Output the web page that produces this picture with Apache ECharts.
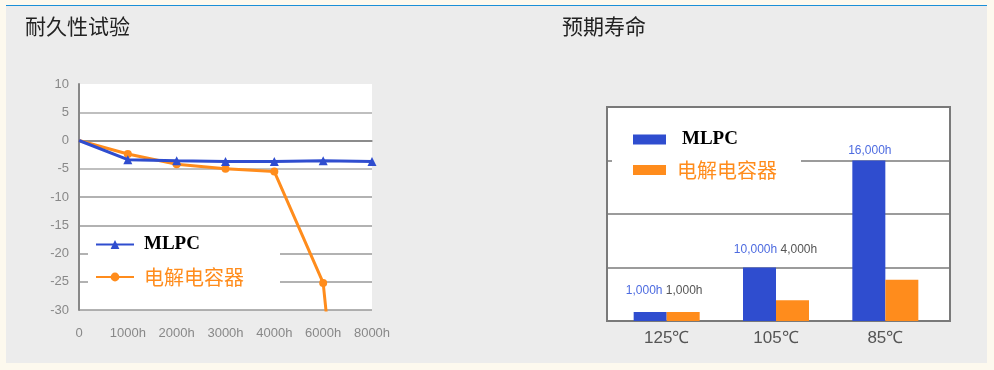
<!DOCTYPE html>
<html>
<head>
<meta charset="utf-8">
<script src="https://cdn.jsdelivr.net/npm/echarts@6/dist/echarts.min.js"></script>
<style>
html,body{margin:0;padding:0;background:#fdf9ee;}
#panel{position:absolute;left:6px;top:5px;width:981px;height:357px;background:#ececec;border-top:1px solid #1a8fd8;}
#chart{position:absolute;left:0;top:0;width:994px;height:370px;}
</style>
</head>
<body>
<div id="panel"></div>
<div id="chart"></div>
<script>
// ---- data ----
const hours = ['0', '1000h', '2000h', '3000h', '4000h', '6000h', '8000h'];
const mlpcChange = [0, -3.4, -3.6, -3.7, -3.7, -3.6, -3.7];
const elecChange = [0, -2.4, -4.2, -5.0, -5.5, -25.2, -110];
const yTicks = {min: -30, max: 10, interval: 5};

const temps = ['125℃', '105℃', '85℃'];
const mlpcLifeBar = [0.17, 1.0, 3.0];   // bar heights as drawn (grid units)
const elecLifeBar = [0.17, 0.39, 0.77];
const mlpcLifeText = ['1,000h', '10,000h', '16,000h'];
const elecLifeText = ['1,000h', '4,000h', ''];

const seriesNames = ['MLPC', '电解电容器'];

// ---- styling (not data) ----
const BLUE = '#2f4dcf', ORANGE = '#ff8c1c';
const labelShift = [[14, -10], [16, -7], [1, 1]];

const chart = echarts.init(document.getElementById('chart'), null, {renderer: 'canvas'});

const legendFmt = function (name) {
  return name.indexOf('MLPC') === 0 ? '{m|MLPC}' : '{c|电解电容器}';
};
function legendRich(padM, padC) {
  return {
    m: {fontFamily: 'Liberation Serif', fontWeight: 'bold', fontSize: 19, color: '#000', lineHeight: 22, padding: [0, 0, 0, padM]},
    c: {fontFamily: 'Noto Sans CJK SC', fontSize: 20, color: ORANGE, lineHeight: 22, padding: [0, 0, 0, padC]}
  };
}

const option = {
  backgroundColor: 'transparent',
  animation: false,
  title: [
    {text: '耐久性试验', left: 20, top: 11, textStyle: {fontFamily: 'Noto Sans CJK SC', fontWeight: 'normal', fontSize: 21, color: '#222'}},
    {text: '预期寿命', left: 557, top: 11, textStyle: {fontFamily: 'Noto Sans CJK SC', fontWeight: 'normal', fontSize: 21, color: '#222'}}
  ],
  legend: [
    {
      data: [seriesNames[0], seriesNames[1]],
      orient: 'vertical', left: 88, top: 231,
      padding: [4, 36, 10, 7], itemGap: 13,
      itemWidth: 38, itemHeight: 11,
      backgroundColor: '#fff',
      formatter: legendFmt,
      textStyle: {rich: legendRich(5, 5)},
      selectedMode: false
    },
    {
      data: [seriesNames[0] + ' ', seriesNames[1] + ' '],
      orient: 'vertical', left: 612, top: 121,
      padding: [9, 24, 10, 21], itemGap: 11,
      itemWidth: 33, itemHeight: 10, icon: 'rect',
      backgroundColor: '#fff',
      formatter: legendFmt,
      textStyle: {rich: legendRich(11, 6)},
      selectedMode: false
    }
  ],
  grid: [
    {left: 79, top: 84, width: 293, height: 226, show: true, backgroundColor: '#fff', borderWidth: 0},
    {left: 607, top: 107, width: 343, height: 214, show: true, backgroundColor: '#fff', borderColor: '#7a7a7a', borderWidth: 2},
    {left: 612, top: 107, width: 328, height: 214}
  ],
  xAxis: [
    {
      gridIndex: 0, type: 'category', data: hours, boundaryGap: false,
      axisLine: {show: true, lineStyle: {color: '#888', width: 1.5}},
      axisTick: {show: false},
      axisLabel: {color: '#888', fontSize: 13, fontFamily: 'Liberation Sans', margin: 17},
      splitLine: {show: false}
    },
    {gridIndex: 1, type: 'category', data: temps, show: false},
    {
      gridIndex: 2, type: 'category', data: temps,
      axisLine: {show: false}, axisTick: {show: false},
      axisLabel: {color: '#555', fontSize: 17, fontFamily: 'Liberation Sans', margin: 9}
    }
  ],
  yAxis: [
    {
      gridIndex: 0, type: 'value', min: yTicks.min, max: yTicks.max, interval: yTicks.interval,
      axisLine: {show: true, lineStyle: {color: '#888', width: 2}},
      axisTick: {show: false},
      axisLabel: {color: '#888', fontSize: 13, fontFamily: 'Liberation Sans', margin: 10},
      splitLine: {show: true, lineStyle: {color: ['#999', '#999', '#999', '#999', '#999', '#aaa', '#777', '#aaa', 'transparent'], width: 1.5}}
    },
    {
      gridIndex: 1, type: 'value', min: 0, max: 4, interval: 1,
      axisLine: {show: false}, axisTick: {show: false}, axisLabel: {show: false},
      splitLine: {show: true, lineStyle: {color: '#7a7a7a', width: 1.5}}
    },
    {gridIndex: 2, type: 'value', min: 0, max: 4, interval: 1, show: false, splitLine: {show: false}}
  ],
  series: [
    {
      name: seriesNames[0], type: 'line', xAxisIndex: 0, yAxisIndex: 0,
      data: mlpcChange.map((v, i) => i === 0 ? {value: v, symbol: 'none'} : v),
      symbol: 'triangle', symbolSize: 9, z: 3,
      itemStyle: {color: BLUE}, lineStyle: {color: BLUE, width: 3}
    },
    {
      name: seriesNames[1], type: 'line', xAxisIndex: 0, yAxisIndex: 0,
      data: elecChange.map((v, i) => i === 0 ? {value: v, symbol: 'none'} : v),
      symbol: 'circle', symbolSize: 8, z: 2, clip: true,
      itemStyle: {color: ORANGE}, lineStyle: {color: ORANGE, width: 3}
    },
    {
      name: seriesNames[0] + ' ', type: 'bar', xAxisIndex: 2, yAxisIndex: 2,
      barWidth: 33, barGap: '0%',
      itemStyle: {color: BLUE},
      data: mlpcLifeBar.map((v, i) => ({
        value: v,
        label: {
          show: true, position: 'top', offset: labelShift[i],
          formatter: elecLifeText[i] ? '{b|' + mlpcLifeText[i] + '} {g|' + elecLifeText[i] + '}' : '{b|' + mlpcLifeText[i] + '}',
          rich: {
            b: {color: '#4d6be0', fontSize: 12, fontFamily: 'Liberation Sans'},
            g: {color: '#555', fontSize: 12, fontFamily: 'Liberation Sans'}
          }
        }
      }))
    },
    {
      name: seriesNames[1] + ' ', type: 'bar', xAxisIndex: 2, yAxisIndex: 2,
      barWidth: 33, barGap: '0%',
      itemStyle: {color: ORANGE},
      data: elecLifeBar
    }
  ]
};
chart.setOption(option);
</script>
</body>
</html>
